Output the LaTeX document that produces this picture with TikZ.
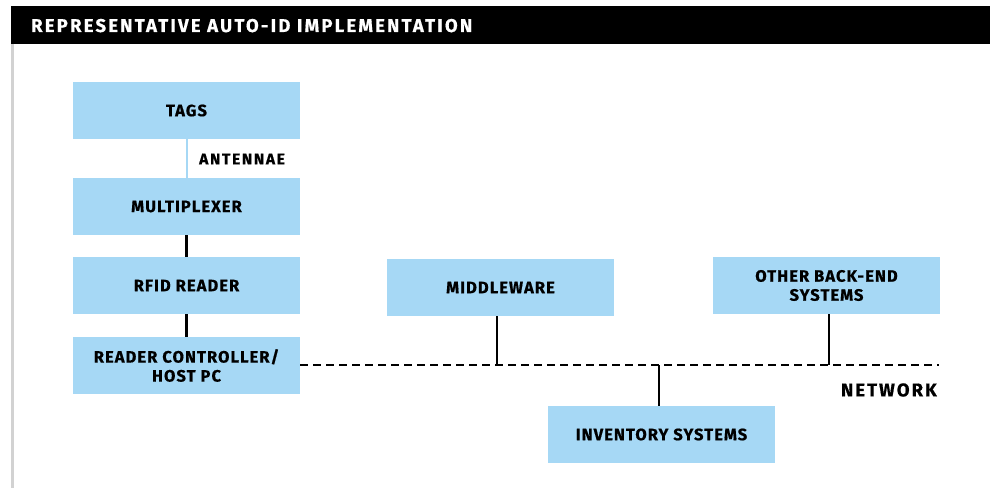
\documentclass[tikz,border=0pt]{standalone}
\usepackage{fontspec}
\setmainfont{Fira Sans}
\newfontfamily\blockfont{Fira Sans}[LetterSpace=6.5, BoldFeatures={FakeBold=0.6}]
\newfontfamily\widefont{Fira Sans}[LetterSpace=11, BoldFeatures={FakeBold=0.6}]
\newfontfamily\titlefont{Fira Sans}[LetterSpace=12, BoldFeatures={FakeBold=0.6}]
\definecolor{boxblue}{RGB}{166,216,245}
\definecolor{rulegray}{RGB}{210,210,210}
\begin{document}
\begin{tikzpicture}[x=1pt,y=1pt,
  block/.style={rectangle, fill=boxblue, minimum width=227pt, minimum height=56.7pt,
    inner sep=0pt, align=center, font=\blockfont\fontsize{16.5}{19}\selectfont\bfseries},
  link/.style={line width=2.8pt, black},
  netline/.style={line width=2.8pt, black, dash pattern=on 8pt off 5pt},
  caption/.style={font=\widefont\fontsize{18.5}{21}\selectfont\bfseries, inner sep=0pt}]
  \useasboundingbox (0,0) rectangle (990,488);
  % title bar and left rule
  \fill[black] (11,444) rectangle (990,482);
  \node[caption, font=\titlefont\fontsize{18.5}{21}\selectfont\bfseries, text=white, anchor=base west] (title) at (31,456) {REPRESENTATIVE AUTO-ID IMPLEMENTATION};
  \draw[rulegray, line width=3pt] (12.5,444) -- (12.5,0);
  % blocks
  \node[block] (tags) at (186.5,377.5) {TAGS};
  \node[block] (mux)  at (186.5,281.5) {MULTIPLEXER};
  \node[block] (rfid) at (186.5,202.5) {RFID READER};
  \node[block] (host) at (186.5,122.5) {READER CONTROLLER/\\HOST PC};
  \node[block] (mw)   at (500.5,200.5) {MIDDLEWARE};
  \node[block] (other) at (826.5,202.5) {OTHER BACK-END\\SYSTEMS};
  \node[block] (inv)  at (661.5,53.5) {INVENTORY SYSTEMS};
  % stack connectors
  \draw[boxblue, line width=2pt] (tags.south) -- (mux.north);
  \node[font=\widefont\fontsize{15.5}{18}\selectfont\bfseries, anchor=west, inner sep=0pt] (ant) at (199,329) {ANTENNAE};
  \draw[link] (mux.south) -- (rfid.north);
  \draw[link] (rfid.south) -- (host.north);
  % network bus and its drops
  \coordinate (netend) at (939,123);
  \draw[netline] (host.east |- netend) -- (netend);
  \draw[link] ([xshift=-3.5pt]mw.south) -- ([xshift=-3.5pt]mw.south |- netend);
  \draw[link] ([xshift=2.5pt]other.south) -- ([xshift=2.5pt]other.south |- netend);
  \draw[link] ([xshift=-2.5pt]inv.north) -- ([xshift=-2.5pt]inv.north |- netend);
  \node[caption, anchor=east] (net) at (937,98) {NETWORK};
\end{tikzpicture}
\end{document}
